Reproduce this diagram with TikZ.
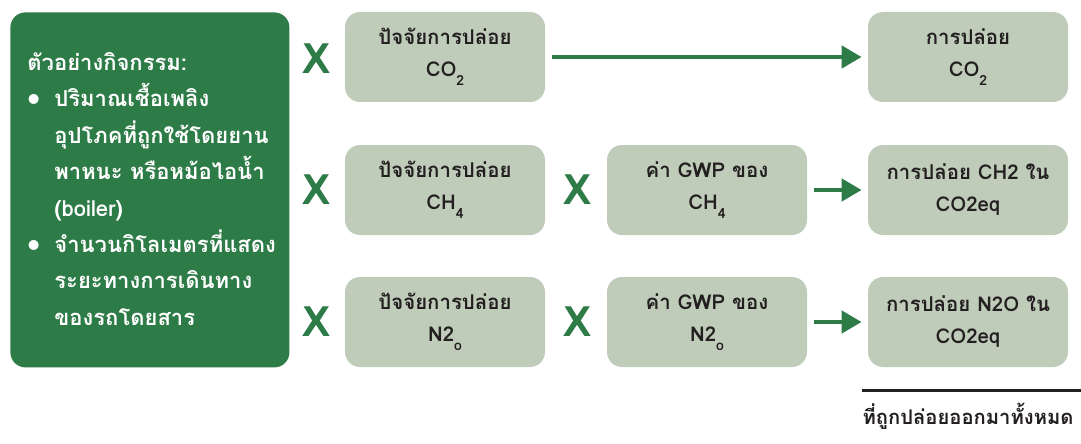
\documentclass[tikz,border=0pt]{standalone}
\usepackage{fontspec}
\setmainfont[Script=Thai]{Loma}
\usetikzlibrary{arrows.meta}

\definecolor{leafgreen}{RGB}{45,123,71}
\definecolor{sage}{RGB}{191,204,186}
\definecolor{inkgray}{RGB}{35,31,32}

\newcommand{\lowsub}[1]{\raisebox{-0.8ex}{\fontsize{7}{7}\selectfont #1}}
\newcommand{\bigdot}{\raisebox{-0.15ex}{\fontsize{14}{14}\selectfont\textbullet}}

\begin{document}
\begin{tikzpicture}[x=0.5pt, y=-0.5pt,
    factor/.style={fill=sage, rounded corners=7.5pt, minimum width=100pt, minimum height=45pt,
      align=center, text=inkgray, font=\fontsize{10.2}{16}\selectfont\bfseries,
      execute at begin node={\rule{0pt}{19pt}}},
    times/.style={text=leafgreen, font=\fontsize{21}{21}\selectfont\bfseries},
    flow/.style={leafgreen, line width=2.2pt, -{Triangle[length=10pt, width=11pt]},
      shorten <=3.5pt, shorten >=3pt}]
  \useasboundingbox (0, 0) rectangle (1081, 444);

  % activity data
  \node[fill=leafgreen, rounded corners=7.5pt, minimum width=139.5pt, minimum height=177.5pt,
    anchor=north west] (act) at (10, 12) {};
  \node[anchor=north west, text=white, align=left, inner sep=0pt,
    font=\fontsize{11}{18.2}\selectfont\bfseries] (actxt) at (27, 52) {%
    ตัวอย่างกิจกรรม:\\
    \bigdot\hspace{7pt}ปริมาณเชื้อเพลิง\\
    \phantom{\bigdot}\hspace{7pt}อุปโภคที่ถูกใช้โดยยาน\\
    \phantom{\bigdot}\hspace{7pt}พาหนะ หรือหม้อไอน้ำ\\
    \phantom{\bigdot}\hspace{7pt}(boiler)\\
    \bigdot\hspace{7pt}จำนวนกิโลเมตรที่แสดง\\
    \phantom{\bigdot}\hspace{7pt}ระยะทางการเดินทาง\\
    \phantom{\bigdot}\hspace{7pt}ของรถโดยสาร};

  % emission factors
  \node[factor] (efco) at (445, 57) {ปัจจัยการปล่อย\\CO\lowsub{2}};
  \node[factor] (efch) at (445, 190) {ปัจจัยการปล่อย\\CH\lowsub{4}};
  \node[factor] (efno) at (445, 322) {ปัจจัยการปล่อย\\N2\lowsub{o}};

  % global warming potentials
  \node[factor] (gwpch) at (707, 190) {ค่า GWP ของ\\CH\lowsub{4}};
  \node[factor] (gwpno) at (707, 322) {ค่า GWP ของ\\N2\lowsub{o}};

  % emissions
  \node[factor] (emco) at (968, 57) {การปล่อย\\CO\lowsub{2}};
  \node[factor] (emch) at (968, 190) {การปล่อย CH2 ใน\\CO2eq};
  \node[factor] (emno) at (968, 322) {การปล่อย N2O ใน\\CO2eq};

  \foreach \y [count=\i] in {59, 190, 322} {
    \node[times] (xa\i) at (317, \y) {X};
  }
  \node[times] (xb2) at (577, 190) {X};
  \node[times] (xb3) at (577, 322) {X};

  \draw[flow] (efco) -- (emco);
  \draw[flow] (gwpch) -- (emch);
  \draw[flow] (gwpno) -- (emno);

  % total
  \coordinate (totl) at (862, 390);
  \coordinate (totr) at (1081, 390);
  \draw[inkgray, line width=1.5pt] (totl) -- (totr);
  \node[text=inkgray, font=\fontsize{10.1}{12}\selectfont\bfseries] (total) at (968, 416)
    {ที่ถูกปล่อยออกมาทั้งหมด};
\end{tikzpicture}
\end{document}
